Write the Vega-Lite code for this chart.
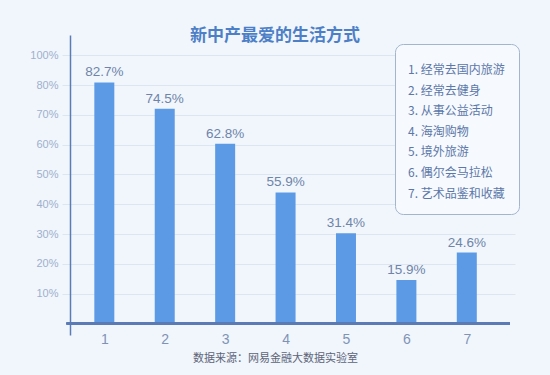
{
  "$schema": "https://vega.github.io/schema/vega-lite/v6.json",
  "autosize": "none",
  "width": 445,
  "height": 300,
  "padding": {"left": 70, "top": 35, "right": 35, "bottom": 40},
  "background": "#f0f6fc",
  "title": {
    "text": "新中产最爱的生活方式",
    "font": "Noto Sans CJK SC",
    "fontSize": 17,
    "fontWeight": "bold",
    "color": "#4d7fc6",
    "baseline": "middle",
    "offset": -18,
    "dx": -17.5,
    "anchor": "middle",
    "frame": "group"
  },
  "config": {
    "view": {"stroke": null},
    "font": "Liberation Sans",
    "axisY": {"labelOverlap": false}
  },
  "data": {
    "values": [
      {"n": 1, "v": 0.809, "label": "82.7%", "item": "1. 经常去国内旅游"},
      {"n": 2, "v": 0.721, "label": "74.5%", "item": "2. 经常去健身"},
      {"n": 3, "v": 0.603, "label": "62.8%", "item": "3. 从事公益活动"},
      {"n": 4, "v": 0.440, "label": "55.9%", "item": "4. 海淘购物"},
      {"n": 5, "v": 0.303, "label": "31.4%", "item": "5. 境外旅游"},
      {"n": 6, "v": 0.146, "label": "15.9%", "item": "6. 偶尔会马拉松"},
      {"n": 7, "v": 0.238, "label": "24.6%", "item": "7. 艺术品鉴和收藏"}
    ]
  },
  "layer": [
    {
      "mark": {"type": "bar", "size": 20},
      "encoding": {
        "x": {
          "field": "n",
          "type": "quantitative",
          "scale": {"domain": [0.5146, 7.715], "nice": false, "zero": false},
          "axis": {
            "values": [1, 2, 3, 4, 5, 6, 7],
            "tickCount": 7,
            "format": "d",
            "grid": false,
            "domain": false,
            "ticks": false,
            "labelColor": "#7f93b5",
            "labelFontSize": 14,
            "labelPadding": -3,
            "title": "数据来源：网易金融大数据实验室",
            "titleFont": "Noto Sans CJK SC",
            "titleFontSize": 11,
            "titleFontWeight": "normal",
            "titleColor": "#5d6478",
            "titleX": 205,
            "titleY": 23,
            "titleAlign": "center",
            "titleBaseline": "middle"
          }
        },
        "y": {
          "field": "v",
          "type": "quantitative",
          "scale": {"domain": [-0.0386, 0.9681], "nice": false, "zero": false},
          "axis": {
            "values": [0.1, 0.2, 0.3, 0.4, 0.5, 0.6, 0.7, 0.8, 0.9],
            "tickCount": 10,
            "format": ".0%",
            "labelExpr": "datum.value > 0.85 ? '100%' : datum.label",
            "labelOverlap": false,
            "labelFlush": false,
            "title": null,
            "grid": true,
            "gridColor": "#dde6f0",
            "tickColor": "#dde6f0",
            "tickSize": 8,
            "domainColor": "#5b7bb5",
            "domainWidth": 1.5,
            "labelColor": "#9fb0cc",
            "labelFontSize": 11,
            "labelPadding": 4
          }
        },
        "y2": {"datum": 0},
        "color": {
          "field": "item",
          "type": "nominal",
          "scale": {"range": ["#5d9ae6"]},
          "legend": {
            "orient": "none",
            "legendX": 325,
            "legendY": 9,
            "title": " ",
            "titleFontSize": 5,
            "titlePadding": 1,
            "symbolSize": 0,
            "symbolOpacity": 0,
            "symbolStrokeWidth": 0,
            "labelOffset": -13,
            "labelFont": "Noto Sans CJK SC",
            "labelFontSize": 12,
            "labelColor": "#5c77a8",
            "labelLimit": 200,
            "rowPadding": 8.6,
            "padding": 14,
            "fillColor": "#f6fafe",
            "strokeColor": "#a3b5cc",
            "cornerRadius": 8
          }
        }
      }
    },
    {
      "mark": {"type": "text", "dy": -6, "fontSize": 13.5, "color": "#6f84a8", "baseline": "alphabetic"},
      "encoding": {
        "x": {"field": "n", "type": "quantitative"},
        "y": {"field": "v", "type": "quantitative"},
        "text": {"field": "label"}
      }
    },
    {
      "mark": {"type": "rule", "color": "#5b7bb5", "strokeWidth": 2},
      "encoding": {
        "x": {"datum": 0.375},
        "x2": {"datum": 7.715},
        "y": {"datum": 0}
      }
    }
  ]
}
